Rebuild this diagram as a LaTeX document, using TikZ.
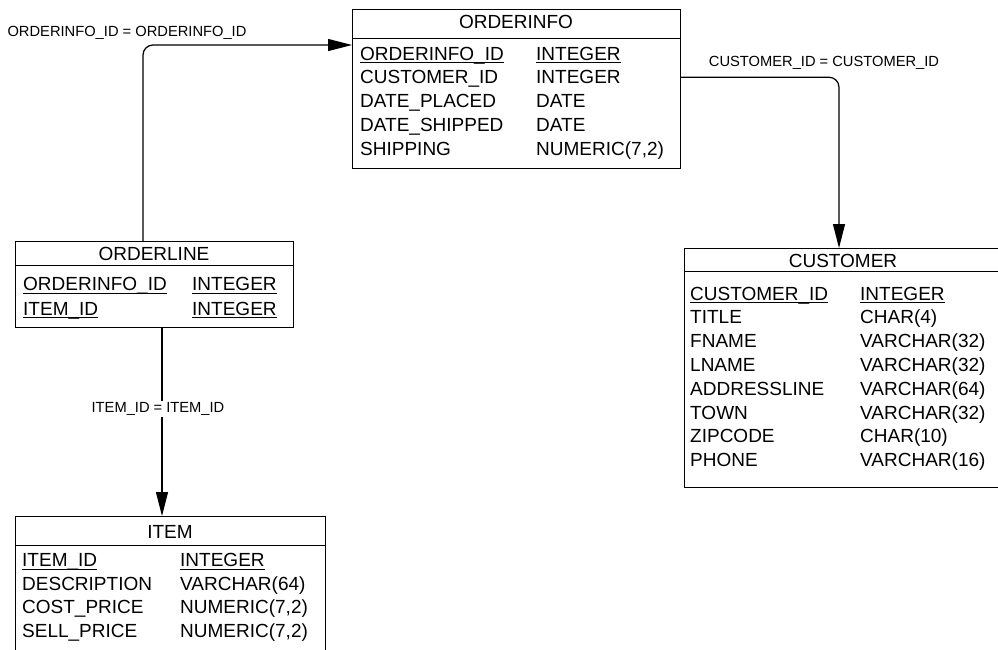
\documentclass[tikz,border=0pt]{standalone}
\usepackage{fontspec}
\setmainfont{Liberation Sans}
\usetikzlibrary{arrows.meta}
\newsavebox{\pkbox}
\newcommand{\pk}[1]{\sbox{\pkbox}{#1}\rlap{\rule[-3pt]{\wd\pkbox}{0.9pt}}\usebox{\pkbox}}
\tikzset{
  tbl/.style={draw, line width=1pt, anchor=north west, inner sep=0pt, outer sep=0pt},
  fld/.style={anchor=west, inner sep=0pt, text height=13pt, text depth=0pt, font=\fontsize{19}{22}\selectfont},
  ttl/.style={fld, anchor=center},
  rel/.style={inner sep=1.5pt, font=\fontsize{14.7}{17}\selectfont},
  fk/.style={-{Triangle[length=24pt,width=12pt]}, line width=1.2pt, rounded corners=10pt}
}
\begin{document}
\begin{tikzpicture}[x=1pt,y=-1pt]
\useasboundingbox (0,0) rectangle (998,649);
\clip (0,0) rectangle (998,649);

\node[tbl, minimum width=328pt, minimum height=159pt] (orderinfo) at (352,9) {};
\draw[line width=1pt] (352,38) -- (680,38);
\node[ttl] (orderinfo-t) at (516,22) {ORDERINFO};
\foreach \f/\t [count=\i from 0] in {\pk{ORDERINFO\_ID}/\pk{INTEGER}, CUSTOMER\_ID/INTEGER, DATE\_PLACED/DATE, DATE\_SHIPPED/DATE, SHIPPING/{NUMERIC(7,2)}}
{
  \node[fld] (oi-\i) at (360,53.5+23.75*\i) {\f};
  \node[fld] (oi-\i t) at (536,53.5+23.75*\i) {\t};
}

\node[tbl, minimum width=278pt, minimum height=86pt] (orderline) at (15,241) {};
\draw[line width=1pt] (15,265) -- (293,265);
\node[ttl] (orderline-t) at (154,254) {ORDERLINE};
\foreach \f/\t [count=\i from 0] in {\pk{ORDERINFO\_ID}/\pk{INTEGER}, \pk{ITEM\_ID}/\pk{INTEGER}}
{
  \node[fld] (ol-\i) at (23,284+24.5*\i) {\f};
  \node[fld] (ol-\i t) at (192,284+24.5*\i) {\t};
}

\node[tbl, minimum width=310pt, minimum height=150pt] (item) at (15,516) {};
\draw[line width=1pt] (15,545) -- (325,545);
\node[ttl] (item-t) at (170,531.5) {ITEM};
\foreach \f/\t [count=\i from 0] in {\pk{ITEM\_ID}/\pk{INTEGER}, DESCRIPTION/VARCHAR(64), COST\_PRICE/{NUMERIC(7,2)}, SELL\_PRICE/{NUMERIC(7,2)}}
{
  \node[fld] (it-\i) at (22,560+23.5*\i) {\f};
  \node[fld] (it-\i t) at (180,560+23.5*\i) {\t};
}

\node[tbl, minimum width=330pt, minimum height=239pt] (customer) at (684,248) {};
\draw[line width=1pt] (684,271) -- (1014,271);
\node[ttl] (customer-t) at (843,260.5) {CUSTOMER};
\foreach \f/\t [count=\i from 0] in {\pk{CUSTOMER\_ID}/\pk{INTEGER}, TITLE/CHAR(4), FNAME/VARCHAR(32), LNAME/VARCHAR(32), ADDRESSLINE/VARCHAR(64), TOWN/VARCHAR(32), ZIPCODE/CHAR(10), PHONE/VARCHAR(16)}
{
  \node[fld] (cu-\i) at (690,293.5+23.8*\i) {\f};
  \node[fld] (cu-\i t) at (860,293.5+23.8*\i) {\t};
}

\draw[fk] ([xshift=-11pt]orderline.north) |- ([yshift=43.5pt]orderinfo.west);
\draw[fk] (orderinfo.east |- oi-1) -| ([xshift=155pt]customer.north west);
\draw[fk] ([xshift=8pt]orderline.south) -- ([xshift=-8pt]item.north);

\node[rel] (oi-rel) at (127,33) {ORDERINFO\_ID = ORDERINFO\_ID};
\node[rel] (cu-rel) at (824,63) {CUSTOMER\_ID = CUSTOMER\_ID};
\node[rel, fill=white] (it-rel) at (158,409) {ITEM\_ID = ITEM\_ID};
\end{tikzpicture}
\end{document}
